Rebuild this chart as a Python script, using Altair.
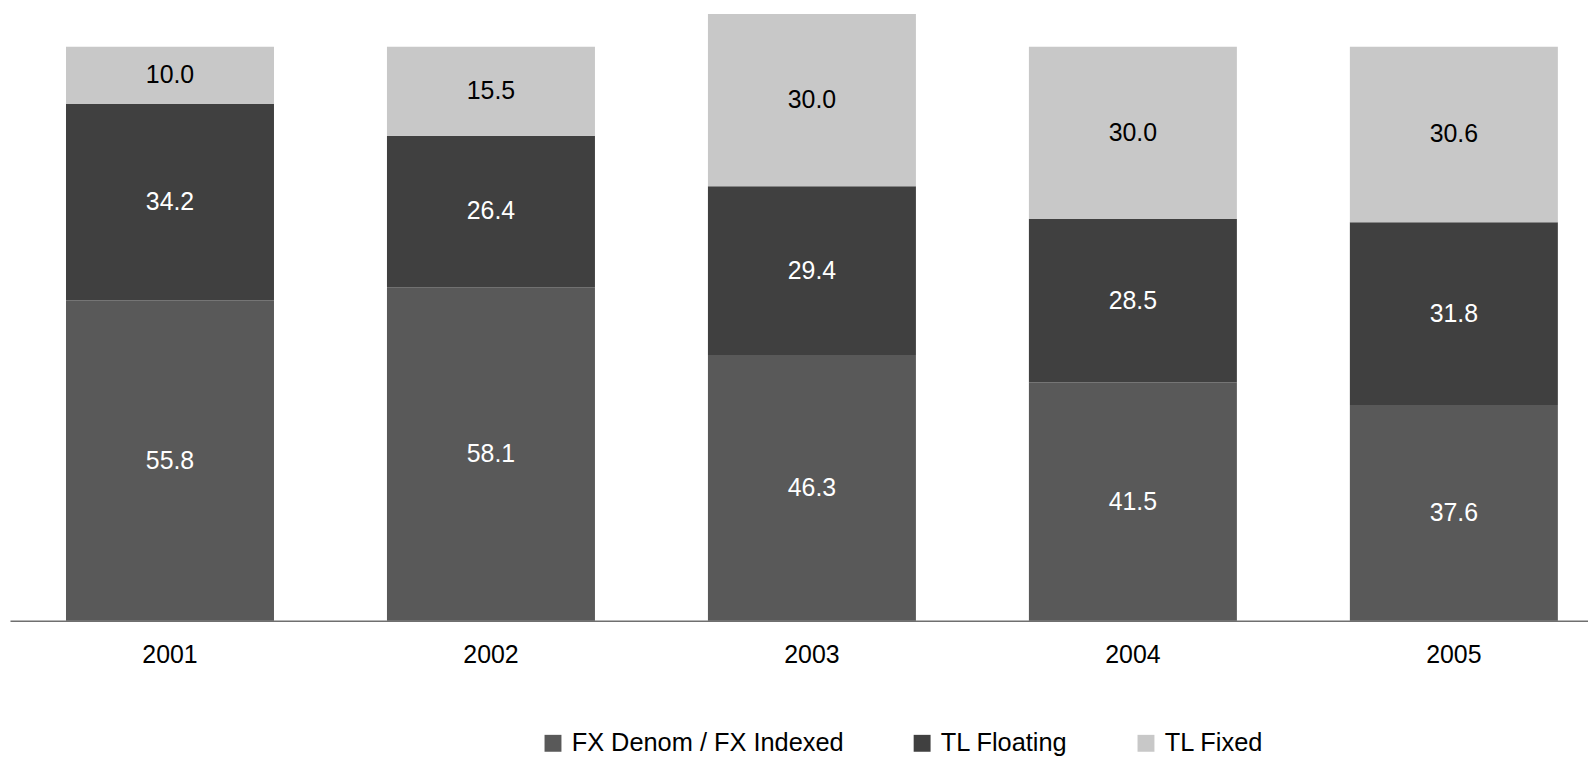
import altair as alt
import pandas as pd

years = ["2001", "2002", "2003", "2004", "2005"]
fx_denom = [55.8, 58.1, 46.3, 41.5, 37.6]
tl_floating = [34.2, 26.4, 29.4, 28.5, 31.8]
tl_fixed = [10.0, 15.5, 30.0, 30.0, 30.6]
series = ["FX Denom / FX Indexed", "TL Floating", "TL Fixed"]
colors = ["#595959", "#404040", "#c8c8c8"]

rows = []
for i, yr in enumerate(years):
    for k, (s, vals) in enumerate(zip(series, [fx_denom, tl_floating, tl_fixed])):
        rows.append({"year": yr, "series": s, "value": vals[i], "order": k})
df = pd.DataFrame(rows)

FONT = "Liberation Sans"

base = alt.Chart(df).transform_stack(
    stack="value", as_=["v0", "v1"], groupby=["year"],
    sort=[alt.SortField("order", order="ascending")]
).transform_calculate(mid="(datum.v0 + datum.v1) / 2")

x = alt.X(
    "year:N",
    sort=years,
    scale=alt.Scale(range=[0, 1612], paddingInner=0.352, paddingOuter=0.1745),
    axis=alt.Axis(title=None, labelAngle=0, ticks=False, labelFontSize=25,
                  labelFont=FONT, labelColor="black", labelPadding=22,
                  domainColor="#6f6f6f", domainWidth=1.5),
)
yscale = alt.Scale(domain=[0, 106.4], nice=False, zero=True)

bars = base.mark_bar().encode(
    x=x,
    y=alt.Y("v0:Q", scale=yscale, axis=None),
    y2="v1:Q",
    color=alt.Color(
        "series:N",
        sort=series,
        scale=alt.Scale(domain=series, range=colors),
        legend=alt.Legend(
            title=None, orient="none", legendX=533, legendY=724,
            direction="horizontal", symbolType="square", symbolSize=289,
            symbolStrokeWidth=0, symbolOpacity=1, labelFontSize=25.5,
            labelFont=FONT, labelColor="black", labelOffset=6,
            columnPadding=65, padding=0, labelLimit=400,
        ),
    ),
)

labels = base.mark_text(font=FONT, fontSize=25, baseline="middle", align="center").encode(
    x=alt.X("year:N", sort=years),
    y=alt.Y("mid:Q", scale=yscale, axis=None),
    text=alt.Text("value:Q", format=".1f"),
    color=alt.condition(alt.datum.series == "TL Fixed", alt.value("black"), alt.value("white")),
)

chart = alt.layer(bars, labels).properties(
    width=1586, height=614,
    padding={"left": 2, "top": 0, "right": 0, "bottom": 136},
    autosize="none",
).configure_view(stroke=None)

chart.save("out.html", embed_options={"renderer": "svg", "actions": False})
